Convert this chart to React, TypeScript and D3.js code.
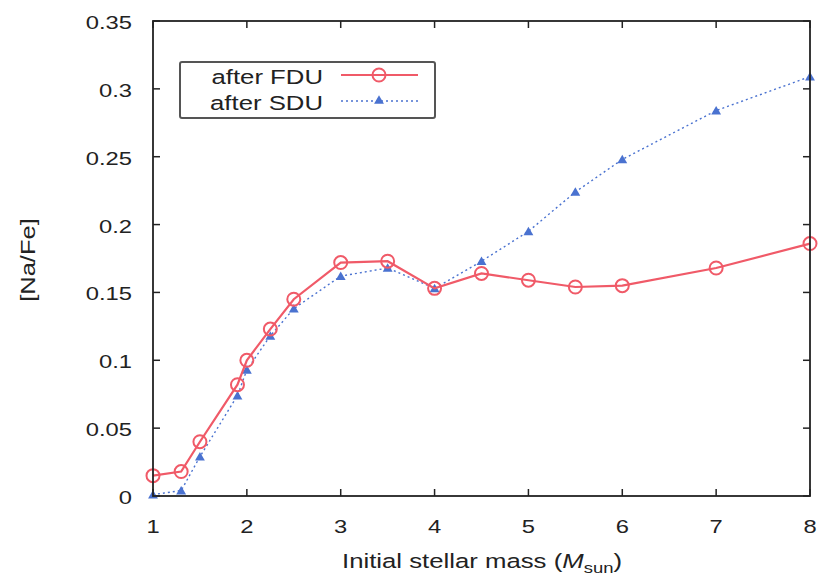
import React from "react";
import * as d3 from "d3";

const masses = [1, 1.3, 1.5, 1.9, 2, 2.25, 2.5, 3, 3.5, 4, 4.5, 5, 5.5, 6, 7, 8];
const afterFDU = [0.015, 0.018, 0.04, 0.082, 0.1, 0.123, 0.145, 0.172, 0.173, 0.153, 0.164, 0.159, 0.154, 0.155, 0.168, 0.186];
const afterSDU = [0.001, 0.004, 0.029, 0.074, 0.093, 0.118, 0.138, 0.162, 0.168, 0.153, 0.173, 0.195, 0.224, 0.248, 0.284, 0.309];
const xTicks = [1, 2, 3, 4, 5, 6, 7, 8];
const yTicks = [0, 0.05, 0.1, 0.15, 0.2, 0.25, 0.3, 0.35];
const yTickLabels = ["0", "0.05", "0.1", "0.15", "0.2", "0.25", "0.3", "0.35"];
const seriesNames = ["after FDU", "after SDU"];

const W = 822, H = 582;
const L = 153, R = 810, T = 21, B = 496;
const RED = "#f05a68";
const BLUE = "#4a72d0";
const INK = "#222";
const FONT = "'Liberation Sans', Arial, Helvetica, sans-serif";

function ST(props: { x: number; y: number; size: number; sx?: number; anchor?: string; rotate?: number; children: React.ReactNode }) {
  const { x, y, size, sx = 1.3, anchor = "start", rotate, children } = props;
  const tr = `translate(${x},${y})${rotate ? ` rotate(${rotate})` : ""} scale(${sx},1)`;
  return (
    <text transform={tr} textAnchor={anchor} fontSize={size} fill={INK}>
      {children}
    </text>
  );
}

export default function App() {
  const x = d3.scaleLinear().domain([1, 8]).range([L, R]);
  const y = d3.scaleLinear().domain([0, 0.35]).range([B, T]);
  const line = d3.line<[number, number]>().x(d => x(d[0])).y(d => y(d[1]));
  const fdu = masses.map((m, i) => [m, afterFDU[i]] as [number, number]);
  const sdu = masses.map((m, i) => [m, afterSDU[i]] as [number, number]);
  const tri = d3.symbol().type(d3.symbolTriangle).size(42)() || "";
  const tl = 7;
  return (
    <svg width={W} height={H} style={{ position: "absolute", left: 0, top: 0, background: "#fff" }} fontFamily={FONT}>
      {xTicks.map(t => (
        <g key={"x" + t}>
          <line x1={x(t)} x2={x(t)} y1={B} y2={B - tl} stroke={INK} strokeWidth={1.5} />
          <line x1={x(t)} x2={x(t)} y1={T} y2={T + tl} stroke={INK} strokeWidth={1.5} />
          <ST x={x(t)} y={533} size={19} sx={1.25} anchor="middle">{t}</ST>
        </g>
      ))}
      {yTicks.map((t, i) => (
        <g key={"y" + t}>
          <line x1={L} x2={L + tl} y1={y(t)} y2={y(t)} stroke={INK} strokeWidth={1.5} />
          <line x1={R} x2={R - tl} y1={y(t)} y2={y(t)} stroke={INK} strokeWidth={1.5} />
          <ST x={132} y={y(t) + 8} size={19} sx={1.25} anchor="end">{yTickLabels[i]}</ST>
        </g>
      ))}
      <path d={line(sdu) || ""} fill="none" stroke={BLUE} strokeWidth={1.4} strokeDasharray="2,3" />
      {sdu.map((d, i) => (
        <path key={"s" + i} d={tri} transform={`translate(${x(d[0])},${y(d[1]) + 1})`} fill={BLUE} />
      ))}
      <path d={line(fdu) || ""} fill="none" stroke={RED} strokeWidth={2.2} />
      {fdu.map((d, i) => (
        <circle key={"f" + i} cx={x(d[0])} cy={y(d[1])} r={6.5} fill="none" stroke={RED} strokeWidth={2} />
      ))}
      <rect x={L} y={T} width={R - L} height={B - T} fill="none" stroke={INK} strokeWidth={1.8} />
      {/* legend */}
      <rect x={180} y={62} width={255} height={56} fill="#fff" stroke="#555" strokeWidth={2} rx={2} />
      <ST x={323} y={84} size={19.5} sx={1.32} anchor="end">{seriesNames[0]}</ST>
      <ST x={323} y={110} size={19.5} sx={1.32} anchor="end">{seriesNames[1]}</ST>
      <line x1={341} x2={418} y1={75} y2={75} stroke={RED} strokeWidth={2.2} />
      <circle cx={379} cy={75} r={6.5} fill="none" stroke={RED} strokeWidth={2} />
      <line x1={341} x2={418} y1={101} y2={101} stroke={BLUE} strokeWidth={1.4} strokeDasharray="2,3" />
      <path d={tri} transform="translate(379,101)" fill={BLUE} />
      {/* axis titles */}
      <ST x={35} y={260} size={19.5} sx={1.31} anchor="middle" rotate={-90}>[Na/Fe]</ST>
      <ST x={482} y={568} size={19.5} sx={1.32} anchor="middle">
        Initial stellar mass (<tspan fontStyle="italic">M</tspan><tspan fontSize={14} dy={5}>sun</tspan><tspan dy={-5}>)</tspan>
      </ST>
    </svg>
  );
}
